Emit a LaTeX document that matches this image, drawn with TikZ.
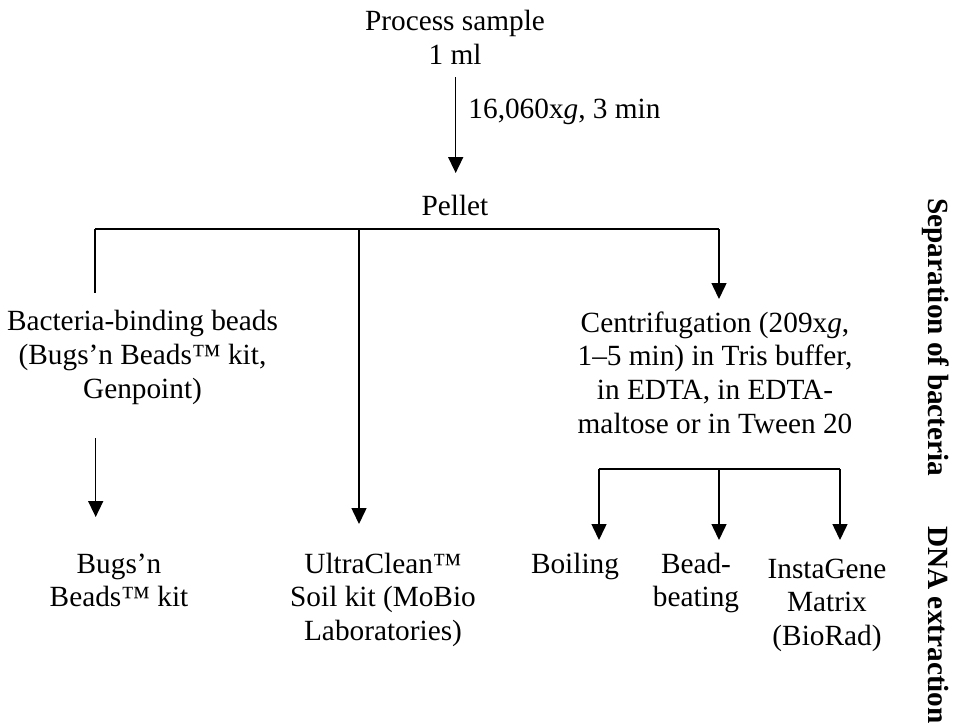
\documentclass[tikz,border=0pt]{standalone}
\usepackage{fontspec}
\setmainfont{Liberation Serif}
\usetikzlibrary{arrows.meta}
\begin{document}
\begin{tikzpicture}[x=1pt,y=-1pt,
  every node/.style={inner sep=0pt,font={\fontsize{29.3}{33.8}\selectfont}},
  txt/.style={align=center,anchor=north},
  sgl/.style={anchor=base},
  vlab/.style={rotate=-90,anchor=base west,font={\fontsize{29.3}{33.8}\selectfont\bfseries}},
  ln/.style={line width=1.5pt},
  arr/.style={line width=1.5pt,-{Triangle[width=15pt,length=16pt]}}]
\useasboundingbox (0,0) rectangle (959,724);

% nodes
\node[txt] (top) at (455,7) {\strut Process sample\\1 ml};
\node[sgl] (pellet) at (455,215) {Pellet};
\node[txt] (beads) at (142.5,306.8) {\strut Bacteria-binding beads\\(Bugs’n Beads™ kit,\\Genpoint)};
\node[txt] (bnb) at (119,549.3) {\strut Bugs’n\\Beads™ kit};
\node[txt] (ultra) at (383,549.3) {\strut UltraClean™\\Soil kit (MoBio\\Laboratories)};
\node[txt] (cent) at (715,308.3) {\strut Centrifugation (209x\textit{g},\\1–5 min) in Tris buffer,\\in EDTA, in EDTA-\\maltose or in Tween 20};
\node[sgl] (boil) at (575,573) {Boiling};
\node[txt] (bead) at (696,549.3) {\strut Bead-\\beating};
\node[txt] (insta) at (827,554.3) {\strut InstaGene\\Matrix\\(BioRad)};
\node[vlab] (sep) at (928,198) {Separation of bacteria};
\node[vlab] (dna) at (928,526) {DNA extraction};

% top arrow
\coordinate (t0) at (455.7,77);
\coordinate (t1) at (455.7,173);
\draw[arr] (t0) -- (t1) node[pos=0.43,anchor=base west,xshift=12pt,yshift=0pt] (cond) {16,060x\textit{g}, 3 min};

% first branching
\coordinate (bL) at (95,229);
\coordinate (bM) at (359,229);
\coordinate (bR) at (719,229);
\coordinate (stubL) at (95,293);
\coordinate (uEnd) at (359,524);
\coordinate (cEnd) at (719,299);
\draw[ln] (bL) -- (bR);
\draw[ln] (bL) -- (stubL);
\draw[arr] (bM) -- (uEnd);
\draw[arr] (bR) -- (cEnd);

% beads to kit
\coordinate (l0) at (95.7,438);
\coordinate (l1) at (95.7,517);
\draw[arr] (l0) -- (l1);

% second branching
\coordinate (sL) at (599,469);
\coordinate (sM) at (719,469);
\coordinate (sR) at (840,469);
\coordinate (eL) at (599,540);
\coordinate (eM) at (719,540);
\coordinate (eR) at (840,540);
\draw[ln] (sL) -- (sR);
\draw[arr] (sL) -- (eL);
\draw[arr] (sM) -- (eM);
\draw[arr] (sR) -- (eR);
\end{tikzpicture}
\end{document}
